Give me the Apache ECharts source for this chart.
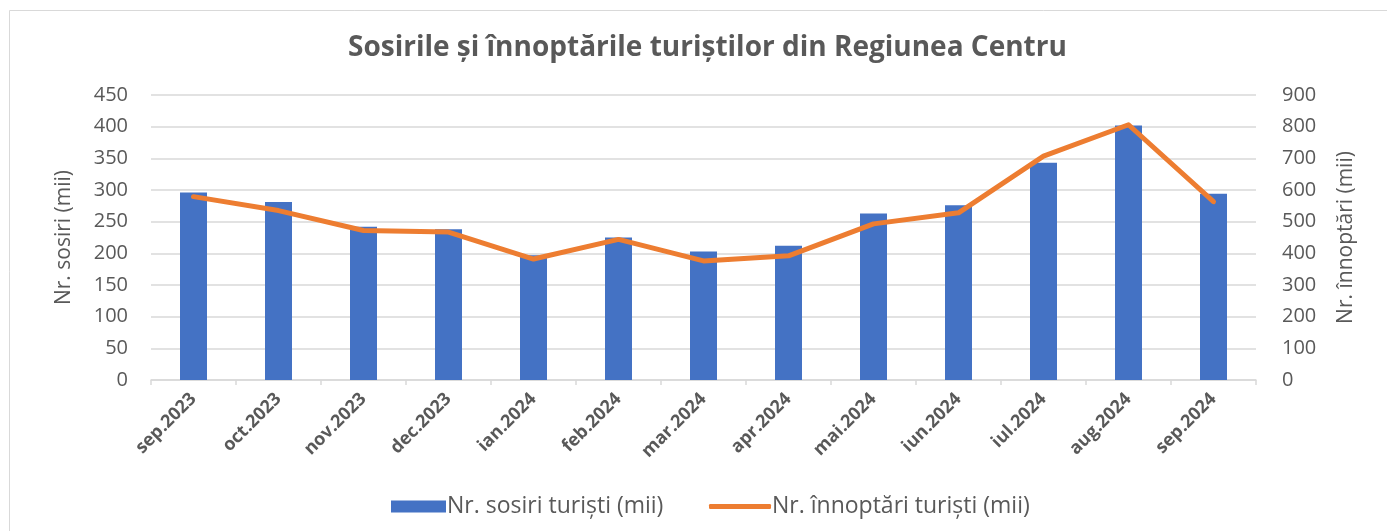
<!DOCTYPE html>
<html>
<head>
<meta charset="utf-8">
<script src="https://cdn.jsdelivr.net/npm/echarts@6/dist/echarts.min.js"></script>
<style>
html,body{margin:0;padding:0;background:#fff;}
#c{width:1387px;height:531px;}
</style>
</head>
<body>
<div id="c"></div>
<script>
const categories = ['sep.2023','oct.2023','nov.2023','dec.2023','ian.2024','feb.2024','mar.2024','apr.2024','mai.2024','iun.2024','iul.2024','aug.2024','sep.2024'];
const sosiri = [296, 281, 242, 238, 197, 225, 203, 212, 263, 276, 343, 402, 294];
const innoptari = [579, 535, 472, 467, 382, 444, 376, 392, 493, 528, 707, 806, 563];
const leftTicks = [0, 450, 50];
const rightTicks = [0, 900, 100];
const seriesNames = ['Nr. sosiri turiști (mii)', 'Nr. înnoptări turiști (mii)'];

const FONT = '"Open Sans", "Noto Sans", sans-serif';
const GREY = '#595959';
const legendText = {fontFamily: FONT, fontSize: 23, color: GREY, padding: [0, 0, 0, -4]};
const chart = echarts.init(document.getElementById('c'), null, {renderer: 'canvas'});
chart.setOption({
  backgroundColor: '#fff',
  animation: false,
  graphic: [{
    type: 'rect', shape: {x: 9.5, y: 10.5, width: 1400, height: 560},
    style: {fill: 'none', stroke: '#d9d9d9', lineWidth: 1}
  }],
  title: {
    text: 'Sosirile și înnoptările turiștilor din Regiunea Centru',
    left: 343, top: 29,
    textStyle: {fontFamily: FONT, fontSize: 28, fontWeight: 'bold', color: GREY}
  },
  legend: [{
    top: 495, left: 391, padding: 0,
    itemWidth: 55, itemHeight: 12,
    textStyle: legendText,
    data: [{name: seriesNames[0], icon: 'rect'}]
  }, {
    top: 495, left: 709, padding: 0,
    itemWidth: 62, itemHeight: 5,
    textStyle: legendText,
    data: [{name: seriesNames[1], icon: 'roundRect'}]
  }],
  grid: {left: 151, right: 131, top: 95, bottom: 151, containLabel: false},
  xAxis: {
    type: 'category', data: categories, boundaryGap: true,
    axisLine: {lineStyle: {color: '#d9d9d9', width: 1.5}},
    axisTick: {show: true, length: 5, lineStyle: {color: '#d9d9d9', width: 1.5}},
    axisLabel: {rotate: 45, margin: 16, fontFamily: FONT, fontSize: 18, fontWeight: 'bold', color: GREY, interval: 0}
  },
  yAxis: [{
    type: 'value', min: leftTicks[0], max: leftTicks[1], interval: leftTicks[2],
    name: 'Nr. sosiri (mii)', nameLocation: 'middle', nameGap: 76,
    nameTextStyle: {fontFamily: FONT, fontSize: 21, color: GREY},
    axisLine: {show: false}, axisTick: {show: false},
    axisLabel: {margin: 23, fontFamily: FONT, fontSize: 20, color: GREY},
    splitLine: {lineStyle: {color: '#d9d9d9', width: 1.5}}
  }, {
    type: 'value', min: rightTicks[0], max: rightTicks[1], interval: rightTicks[2],
    name: 'Nr. înnoptări (mii)', nameLocation: 'middle', nameGap: 80,
    nameTextStyle: {fontFamily: FONT, fontSize: 21, color: GREY},
    axisLine: {show: false}, axisTick: {show: false},
    axisLabel: {margin: 26, fontFamily: FONT, fontSize: 20, color: GREY},
    splitLine: {show: false}
  }],
  series: [{
    name: seriesNames[0], type: 'bar', data: sosiri, yAxisIndex: 0,
    barWidth: 27, itemStyle: {color: '#4472C4'}
  }, {
    name: seriesNames[1], type: 'line', data: innoptari, yAxisIndex: 1,
    symbol: 'none', lineStyle: {color: '#ED7D31', width: 5, cap: 'round', join: 'round'},
    itemStyle: {color: '#ED7D31'}
  }]
});
</script>
</body>
</html>
